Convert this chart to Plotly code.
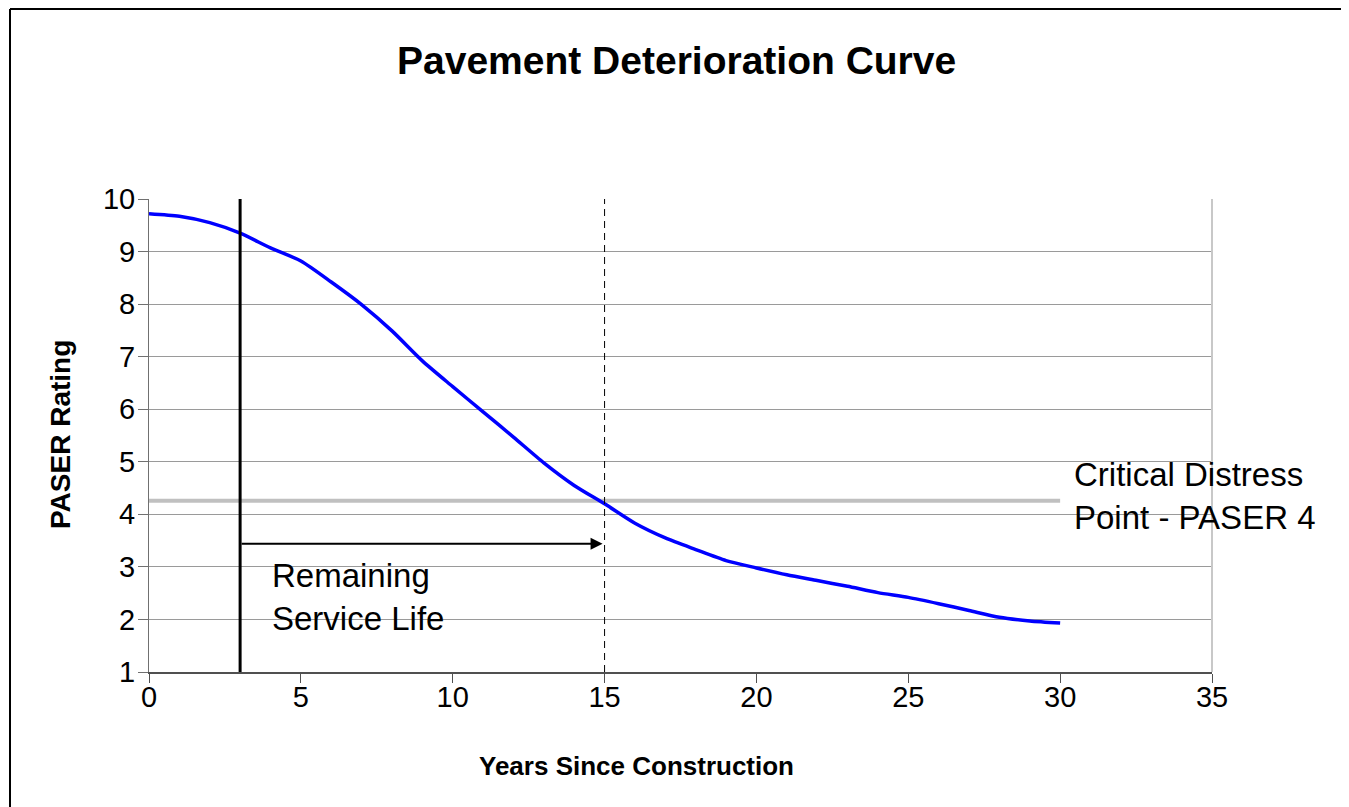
import plotly.graph_objects as go

# ---------------------------------------------------------------------------
# Data
# ---------------------------------------------------------------------------
years = list(range(0, 31))
paser_rating = [
    9.72, 9.67, 9.55, 9.35, 9.07, 8.82, 8.42, 7.99, 7.49, 6.92,
    6.43, 5.95, 5.47, 4.98, 4.55, 4.20, 3.83, 3.55, 3.33, 3.12,
    2.98, 2.85, 2.74, 2.63, 2.51, 2.42, 2.30, 2.17, 2.04, 1.97, 1.93,
]
critical_years = [0, 30]
critical_rating = [4.26, 4.26]

current_year = 3
critical_year = 15
arrow_rating = 3.44

x_ticks = [0, 5, 10, 15, 20, 25, 30, 35]
y_ticks = [1, 2, 3, 4, 5, 6, 7, 8, 9, 10]

# ---------------------------------------------------------------------------
# Layout helpers. Positions are given in page pixels; the page body adds an
# 8px margin, so the figure itself starts at (8, 8).
# ---------------------------------------------------------------------------
OFF = 8
W, H = 1349 - OFF, 807 - OFF
PL, PR, PT, PB = 149, 1212, 199, 672  # plot area, page pixels
FONT = "Arial, 'Liberation Sans', sans-serif"


def px_x(p):
    return (p - PL) / (PR - PL)


def px_y(p):
    return (PB - p) / (PB - PT)


fig = go.Figure()

fig.add_trace(go.Scatter(
    x=critical_years, y=critical_rating, mode="lines",
    line={"color": "#c0c0c0", "width": 4},
    hoverinfo="skip",
))
fig.add_trace(go.Scatter(
    x=years, y=paser_rating, mode="lines",
    line={"color": "#0000ff", "width": 3.5, "shape": "spline", "smoothing": 0.7},
    hovertemplate="Year %{x}: %{y:.2f}<extra></extra>",
))

shapes = [
    # current age marker
    {"type": "line", "xref": "x", "yref": "paper", "x0": current_year, "x1": current_year,
     "y0": 0, "y1": 1, "line": {"color": "black", "width": 3}},
    # year the pavement reaches the critical point
    {"type": "line", "xref": "x", "yref": "paper", "x0": critical_year, "x1": critical_year,
     "y0": 0, "y1": 1, "line": {"color": "black", "width": 1, "dash": "7px,5px"}},
    # right edge of the plot area
    {"type": "line", "xref": "paper", "yref": "paper", "x0": 1, "x1": 1,
     "y0": 0, "y1": 1, "line": {"color": "#c8c8c8", "width": 2}},
    # outer chart frame (left and top edges visible)
    {"type": "line", "xref": "paper", "yref": "paper", "x0": px_x(10), "x1": px_x(10),
     "y0": px_y(9), "y1": px_y(812), "line": {"color": "black", "width": 2}},
    {"type": "line", "xref": "paper", "yref": "paper", "x0": px_x(10), "x1": px_x(1356),
     "y0": px_y(9), "y1": px_y(9), "line": {"color": "black", "width": 2}},
]


def label(text, x, y, size, **kw):
    return {"text": text, "xref": "paper", "yref": "paper",
            "x": px_x(x), "y": px_y(y), "showarrow": False,
            "xanchor": kw.pop("xanchor", "center"), "yanchor": "middle",
            "font": {"size": size, "color": "black", "family": FONT}, **kw}


annotations = [
    label("<b>Pavement Deterioration Curve</b>", 676, 60, 39),
    label("<b>Years Since Construction</b>", 636, 766, 26),
    label("<b>PASER Rating</b>", 60, 435, 28, textangle=-90),
    label("Critical Distress<br>Point - PASER 4", 1072, 496, 33,
          xanchor="left", align="left"),
    label("Remaining<br>Service Life", 270, 597, 33,
          xanchor="left", align="left"),
    # remaining service life arrow
    {"x": critical_year, "y": arrow_rating, "ax": current_year, "ay": arrow_rating,
     "xref": "x", "yref": "y", "axref": "x", "ayref": "y", "text": "",
     "showarrow": True, "arrowhead": 2, "arrowsize": 1.2, "arrowwidth": 2,
     "arrowcolor": "black", "standoff": 2},
]

fig.update_layout(
    width=W, height=H,
    paper_bgcolor="white", plot_bgcolor="white",
    showlegend=False,
    margin={"l": PL - OFF, "r": 1349 - PR, "t": PT - OFF, "b": 807 - PB, "pad": 0},
    font={"family": FONT, "color": "black"},
    shapes=shapes,
    annotations=annotations,
    xaxis={
        "range": [0, 35], "tickvals": x_ticks, "showgrid": False, "zeroline": False,
        "showline": True, "linecolor": "#505050", "linewidth": 2,
        "ticks": "outside", "ticklen": 9, "tickcolor": "#505050", "tickwidth": 1,
        "ticklabelstandoff": -11,
        "tickfont": {"size": 29, "color": "black"},
    },
    yaxis={
        "range": [1, 10], "tickvals": y_ticks, "showgrid": True,
        "gridcolor": "#9a9a9a", "gridwidth": 1, "zeroline": False,
        "showline": True, "linecolor": "#707070", "linewidth": 1,
        "ticks": "outside", "ticklen": 10, "tickcolor": "#707070", "tickwidth": 1,
        "ticklabelstandoff": -3,
        "tickfont": {"size": 29, "color": "black"},
    },
)

fig.write_html("out.html")
